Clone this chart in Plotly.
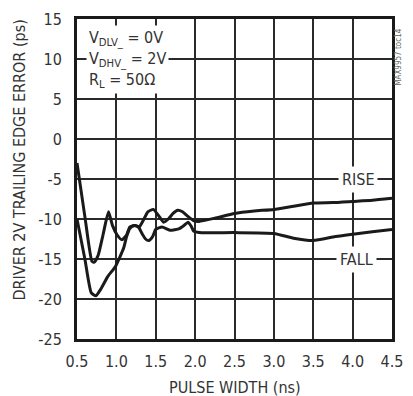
import plotly.graph_objects as go

# Driver trailing edge error versus pulse width
rise_x = [0.5, 0.6, 0.69, 0.72, 0.77, 0.83, 0.9, 0.95, 1.01, 1.07, 1.13, 1.17, 1.24,
          1.29, 1.34, 1.40, 1.47, 1.53, 1.6, 1.66, 1.72, 1.78, 1.84, 1.9, 1.98, 2.05,
          2.25, 2.5, 2.75, 3.0, 3.25, 3.5, 3.75, 4.0, 4.25, 4.5]
rise_y = [-3.0, -9.7, -15.3, -15.4, -14.5, -12.0, -9.1, -10.8, -12.0, -12.6, -12.0,
          -11.0, -10.8, -11.0, -10.2, -9.1, -8.8, -9.5, -10.4, -10.0, -9.3, -8.9, -9.1,
          -9.6, -10.2, -10.3, -9.9, -9.3, -9.0, -8.8, -8.4, -8.0, -7.95, -7.8, -7.65, -7.4]

fall_x = [0.5, 0.6, 0.68, 0.74, 0.8, 0.89, 0.99, 1.09, 1.13, 1.17, 1.22, 1.28, 1.33,
          1.37, 1.41, 1.46, 1.5, 1.58, 1.68, 1.8, 1.86, 1.91, 1.95, 1.98, 2.05, 2.5,
          3.0, 3.25, 3.5, 3.78, 4.0, 4.25, 4.5]
fall_y = [-10.0, -15.0, -19.2, -19.6, -18.8, -17.2, -15.9, -13.7, -12.2, -11.2, -10.8,
          -11.0, -11.9, -12.5, -12.7, -12.2, -11.3, -11.0, -11.4, -11.2, -10.8, -10.4,
          -10.9, -11.5, -11.7, -11.7, -11.8, -12.4, -12.7, -12.2, -11.9, -11.6, -11.3]

x_ticks = [0.5, 1.0, 1.5, 2.0, 2.5, 3.0, 3.5, 4.0, 4.5]
y_ticks = [-25, -20, -15, -10, -5, 0, 5, 10, 15]

FONT = "Liberation Sans Narrow, DejaVu Sans Condensed, Arial Narrow, sans-serif"
TXT = "#333333"

fig = go.Figure()
for name, xs, ys in [("RISE", rise_x, rise_y), ("FALL", fall_x, fall_y)]:
    fig.add_trace(go.Scatter(
        x=xs, y=ys, mode="lines", name=name,
        line=dict(color="#1a1a1a", width=3, shape="spline", smoothing=0.5),
        showlegend=False, cliponaxis=True,
    ))

axis_common = dict(
    showgrid=True, gridcolor="#2a2a2a", gridwidth=1.5,
    showline=True, linecolor="#1a1a1a", linewidth=3, mirror=True,
    zeroline=False, ticks="outside", tickcolor="rgba(0,0,0,0)",
    tickfont=dict(family=FONT, size=16, color=TXT),
)
fig.update_xaxes(range=[0.5, 4.5], tickvals=x_ticks,
                 ticktext=[f"{v:.1f}" for v in x_ticks], ticklen=6, **axis_common)
fig.update_yaxes(range=[-25, 15], tickvals=y_ticks,
                 ticktext=[str(v) for v in y_ticks], ticklen=9, **axis_common)

annotations = [
    dict(text="PULSE WIDTH (ns)", xref="paper", yref="paper", x=0.5, y=-0.152,
         xanchor="center", yanchor="middle", showarrow=False,
         font=dict(family=FONT, size=16, color=TXT)),
    dict(text="DRIVER 2V TRAILING EDGE ERROR (ps)", xref="paper", yref="paper",
         x=-0.184, y=0.558, textangle=-90, xanchor="center", yanchor="middle",
         showarrow=False, font=dict(family=FONT, size=16, color=TXT)),
    dict(text="V<sub>DLV_</sub> = 0V<br>V<sub>DHV_</sub> = 2V<br>R<sub>L</sub> = 50Ω",
         xref="paper", yref="paper", x=0.028, y=0.982, xanchor="left", yanchor="top",
         align="left", showarrow=False, bgcolor="white", borderpad=2,
         font=dict(family=FONT, size=16, color=TXT)),
    dict(text="RISE", x=4.07, y=-5, xref="x", yref="y", showarrow=False,
         bgcolor="white", borderpad=3, font=dict(family=FONT, size=16, color=TXT)),
    dict(text="FALL", x=4.05, y=-15, xref="x", yref="y", showarrow=False,
         bgcolor="white", borderpad=3, font=dict(family=FONT, size=16, color=TXT)),
    dict(text="MAX9957 toc14", xref="paper", yref="paper", x=1.02, y=0.88,
         textangle=-90, xanchor="center", yanchor="middle", showarrow=False,
         font=dict(family=FONT, size=8, color="#666666")),
]

fig.update_layout(
    width=413, height=396,
    margin=dict(l=77, r=10, t=13, b=57),
    paper_bgcolor="white", plot_bgcolor="white",
    annotations=annotations,
)

fig.write_html("out.html")
